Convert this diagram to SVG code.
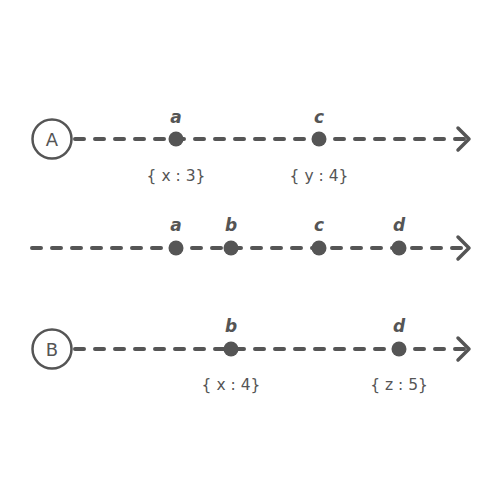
<svg xmlns="http://www.w3.org/2000/svg" width="500" height="500" viewBox="0 0 500 500">
<style>
.ln{stroke:#555;stroke-width:4;stroke-dasharray:9 11;stroke-linecap:round;fill:none}
.hd{stroke:#555;stroke-width:3.5;fill:none;stroke-linecap:round;stroke-linejoin:round}
.dot{fill:#555}
.lbl{font-family:"DejaVu Sans",sans-serif;font-size:17px;font-style:italic;font-weight:bold;fill:#555;text-anchor:middle}
.ann{font-family:"DejaVu Sans",sans-serif;font-size:15.5px;fill:#555;text-anchor:middle}
.nd{fill:#fff;stroke:#555;stroke-width:2.5}
.nt{font-family:"DejaVu Sans",sans-serif;font-size:18px;fill:#555;text-anchor:middle}
</style>
<rect width="500" height="500" fill="#fff"/>
<g id="connectors">
<path class="ln" d="M75 139H468"/>
<path class="hd" d="M458 128L469 139L458 150"/>
<path class="ln" d="M32 248H468"/>
<path class="hd" d="M458 237L469 248L458 259"/>
<path class="ln" d="M75 349H468"/>
<path class="hd" d="M458 338L469 349L458 360"/>
</g>
<g id="nodeA"><circle class="nd" cx="52" cy="139" r="19.5"/><text class="nt" x="52" y="145.5">A</text></g>
<g id="nodeB"><circle class="nd" cx="52" cy="349" r="19.5"/><text class="nt" x="52" y="355.5">B</text></g>
<g id="row1">
<g id="r1a"><circle class="dot" cx="176" cy="139" r="7.5"/><text class="lbl" x="176" y="123">a</text><text class="ann" x="176" y="181">{ x : 3}</text></g>
<g id="r1c"><circle class="dot" cx="319" cy="139" r="7.5"/><text class="lbl" x="319" y="123">c</text><text class="ann" x="319" y="181">{ y : 4}</text></g>
</g>
<g id="row2">
<g id="r2a"><circle class="dot" cx="176" cy="248" r="7.5"/><text class="lbl" x="176" y="231">a</text></g>
<g id="r2b"><circle class="dot" cx="231" cy="248" r="7.5"/><text class="lbl" x="231" y="231">b</text></g>
<g id="r2c"><circle class="dot" cx="319" cy="248" r="7.5"/><text class="lbl" x="319" y="231">c</text></g>
<g id="r2d"><circle class="dot" cx="399" cy="248" r="7.5"/><text class="lbl" x="399" y="231">d</text></g>
</g>
<g id="row3">
<g id="r3b"><circle class="dot" cx="231" cy="349" r="7.5"/><text class="lbl" x="231" y="332">b</text><text class="ann" x="231" y="390">{ x : 4}</text></g>
<g id="r3d"><circle class="dot" cx="399" cy="349" r="7.5"/><text class="lbl" x="399" y="332">d</text><text class="ann" x="399" y="390">{ z : 5}</text></g>
</g>
</svg>
